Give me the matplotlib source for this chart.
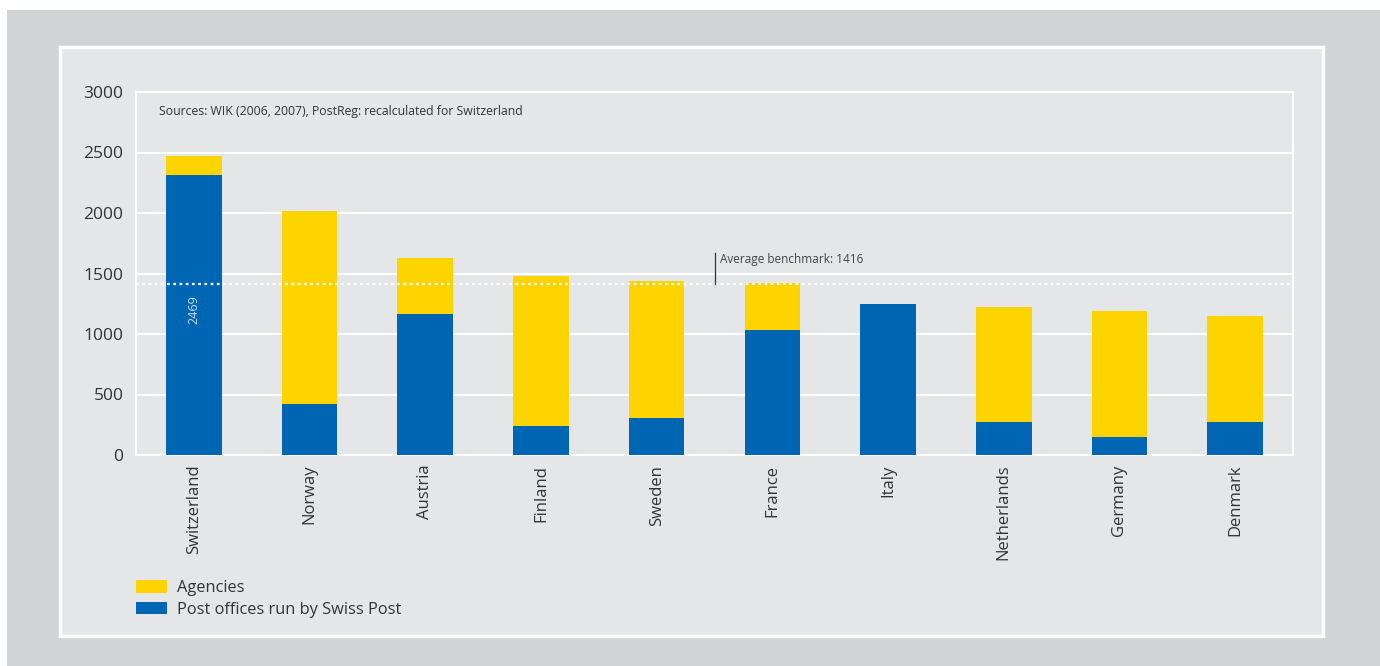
import matplotlib.pyplot as plt
from matplotlib.patches import Rectangle, Patch

countries = ["Switzerland", "Norway", "Austria", "Finland", "Sweden",
             "France", "Italy", "Netherlands", "Germany", "Denmark"]
post_offices = [2310, 420, 1165, 240, 305, 1035, 1250, 275, 145, 275]
agencies = [159, 1600, 463, 1240, 1135, 385, 0, 950, 1045, 875]
benchmark = 1416
swiss_total_label = "2469"
source_note = "Sources: WIK (2006, 2007), PostReg: recalculated for Switzerland"

YELLOW = "#fdd300"
BLUE = "#0066b3"
PANEL = "#e5e6e8"
OUTER = "#d2d3d5"
TEXT = "#333333"

plt.rcParams["font.family"] = ["Open Sans", "DejaVu Sans"]

W, H = 1380, 666
fig = plt.figure(figsize=(W / 100, H / 100), dpi=100, facecolor="white")

# outer grey background and white-framed panel
fig.patches.append(Rectangle((7 / W, 0), 1 - 7 / W, 1 - 10 / H,
                             transform=fig.transFigure, facecolor=OUTER,
                             edgecolor="none", zorder=-3))
fig.patches.append(Rectangle((60 / W, 1 - 636 / H), 1263 / W, 589 / H,
                             transform=fig.transFigure, facecolor=PANEL,
                             edgecolor="white", linewidth=2.5, zorder=-2))

ax = fig.add_axes([136 / W, 1 - 455 / H, 1157 / W, 363 / H])
ax.set_facecolor(PANEL)

x = range(len(countries))
ax.bar(x, post_offices, width=0.48, color=BLUE, zorder=3)
ax.bar(x, agencies, width=0.48, bottom=post_offices, color=YELLOW, zorder=3)

ax.set_xlim(-0.5, len(countries) - 0.5)
ax.set_ylim(0, 3000)
ax.set_yticks(range(0, 3001, 500))
ax.grid(axis="y", color="white", linewidth=1.5, zorder=1)
for s in ax.spines.values():
    s.set_color("white")
    s.set_linewidth(1.5)
ax.tick_params(axis="both", length=0, colors=TEXT, labelsize=12.5)
ax.tick_params(axis="y", pad=9)
ax.set_xticks(list(x))
ax.set_xticklabels(countries, rotation=90, va="top", fontsize=12, color=TEXT)
ax.tick_params(axis="x", pad=7)

# average benchmark line
ax.axhline(benchmark, color="white", linestyle=(0, (1.2, 1.6)), linewidth=1.6, zorder=4)
ax.plot([4.5, 4.5], [benchmark, benchmark + 250], color="#333333", linewidth=0.9, zorder=4)
ax.text(4.55, benchmark + 200, f"Average benchmark: {benchmark}", fontsize=8.5,
        color="#444444", va="center", ha="left", zorder=5)

ax.text(0, 1200, swiss_total_label, rotation=90, color="#c8dcef", fontsize=9,
        ha="center", va="center", zorder=5)

ax.text(0.02, 0.945, source_note, transform=ax.transAxes, fontsize=8.8,
        color="#333333", va="center", ha="left")

handles = [Patch(facecolor=YELLOW, label="Agencies"),
           Patch(facecolor=BLUE, label="Post offices run by Swiss Post")]
fig.legend(handles=handles, loc="upper left", bbox_to_anchor=(136 / W, 1 - 580 / H),
           frameon=False, fontsize=11.8, handlelength=1.9, handleheight=0.8,
           handletextpad=0.6, labelspacing=0.35, labelcolor=TEXT, borderaxespad=0,
           borderpad=0)

fig.savefig("out.png", dpi=100, facecolor=fig.get_facecolor())
